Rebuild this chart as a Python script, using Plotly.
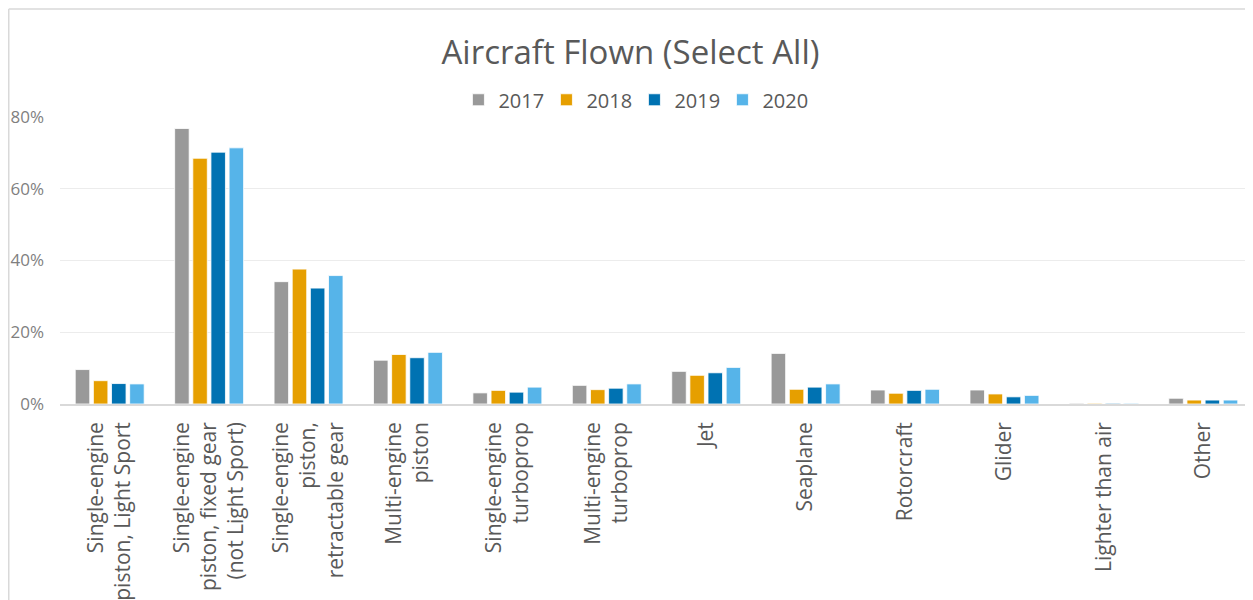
import plotly.graph_objects as go

categories = [
    "Single-engine<br>piston, Light Sport",
    "Single-engine<br>piston, fixed gear<br>(not Light Sport)",
    "Single-engine<br>piston,<br>retractable gear",
    "Multi-engine<br>piston",
    "Single-engine<br>turboprop",
    "Multi-engine<br>turboprop",
    "Jet",
    "Seaplane",
    "Rotorcraft",
    "Glider",
    "Lighter than air",
    "Other",
]

years = ["2017", "2018", "2019", "2020"]
v2017 = [0.096, 0.768, 0.341, 0.122, 0.031, 0.052, 0.091, 0.141, 0.039, 0.039, 0.002, 0.016]
v2018 = [0.065, 0.685, 0.376, 0.138, 0.038, 0.040, 0.080, 0.041, 0.030, 0.028, 0.002, 0.011]
v2019 = [0.057, 0.702, 0.323, 0.129, 0.033, 0.044, 0.087, 0.047, 0.038, 0.020, 0.002, 0.011]
v2020 = [0.056, 0.714, 0.358, 0.144, 0.047, 0.056, 0.102, 0.056, 0.041, 0.024, 0.002, 0.011]
series = [v2017, v2018, v2019, v2020]
colors = ["#999999", "#E69F00", "#0072B2", "#56B4E9"]

y_ticks = [0, 0.2, 0.4, 0.6, 0.8]
y_tick_labels = ["0%", "20%", "40%", "60%", "80%"]

W, H = 1245, 592
L, T, B = 52, 109, 196
PW, PH = W - L, H - T - B

fig = go.Figure()
for name, vals, col in zip(years, series, colors):
    fig.add_trace(go.Bar(
        x=categories, y=vals, name=name,
        marker=dict(color=col, line=dict(color="white", width=0.8)),
    ))

fig.update_layout(
    width=W, height=H,
    margin=dict(l=L, r=0, t=T, b=B),
    paper_bgcolor="white", plot_bgcolor="white",
    font=dict(family="Open Sans, sans-serif", color="#595959"),
    barmode="group", bargap=0.27, bargroupgap=0.2,
    title=dict(text="Aircraft Flown (Select All)", x=0.5, xanchor="center",
               y=1 - 44 / H, yanchor="middle", yref="container",
               font=dict(size=33, color="#595959")),
    legend=dict(orientation="h", x=0.4815, xanchor="center", y=1.06, yanchor="middle",
                font=dict(size=20, color="#595959"), traceorder="normal",
                itemwidth=30, entrywidth=43),
    showlegend=True,
    xaxis=dict(
        tickangle=-90, tickfont=dict(size=21, color="#595959"),
        showline=True, linecolor="#d9d9d9", linewidth=1.5,
        showgrid=False, ticks="", ticklabelstandoff=8,
    ),
    yaxis=dict(
        range=[0, 0.8], tickvals=y_ticks, ticktext=y_tick_labels,
        tickfont=dict(size=17, color="#7f7f7f"),
        showgrid=True, gridcolor="#ececec", gridwidth=1,
        zeroline=False, showline=False, ticks="", ticklabelstandoff=15,
    ),
    shapes=[
        dict(type="line", xref="paper", yref="paper",
             x0=(0.75 - L) / PW, x1=1.01, y0=1 + (T - 1) / PH, y1=1 + (T - 1) / PH,
             line=dict(color="#d9d9d9", width=1.5)),
        dict(type="line", xref="paper", yref="paper",
             x0=(0.75 - L) / PW, x1=(0.75 - L) / PW, y0=1 + (T - 1) / PH, y1=-(B + 5) / PH,
             line=dict(color="#d9d9d9", width=1.5)),
    ],
)

fig.write_html("out.html")
